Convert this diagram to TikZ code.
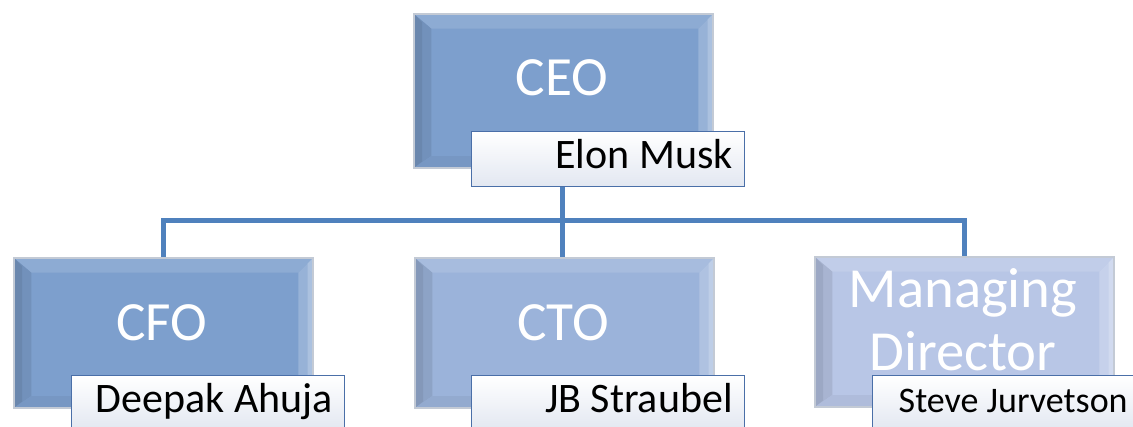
\documentclass[tikz,border=0pt]{standalone}
\usepackage{fontspec}
\setmainfont{Carlito}
\usetikzlibrary{backgrounds,calc}

\definecolor{link}{HTML}{4F81BD}
\definecolor{rimgray}{HTML}{C3CAD5}
\definecolor{tagrim}{HTML}{4A6FA8}
\definecolor{tagfoot}{HTML}{E2E7F1}
\definecolor{ceofill}{HTML}{7D9FCD}
\definecolor{ctofill}{HTML}{9BB3DA}
\definecolor{mdfill}{HTML}{B8C6E6}

\tikzset{
  % bevelled position box; #1 = face colour
  post/.style={rectangle, draw=rimgray, line width=1.5pt, fill=#1,
    minimum width=224.25pt, minimum height=112.5pt, inner sep=0pt,
    anchor=north west,
    path picture={
      \coordinate (pa) at (path picture bounding box.north west);
      \coordinate (pb) at (path picture bounding box.north east);
      \coordinate (pc) at (path picture bounding box.south east);
      \coordinate (pd) at (path picture bounding box.south west);
      % top band
      \fill[#1!88!white] (pa) -- (pb) -- ([shift={(-11pt,-11pt)}]pb)
        -- ([shift={(13pt,-11pt)}]pa) -- cycle;
      % left band
      \fill[#1!91!black] (pa) -- ([shift={(13pt,-11pt)}]pa)
        -- ([shift={(13pt,9pt)}]pd) -- (pd) -- cycle;
      \fill[#1!85!black] (pa) -- ([shift={(6pt,-6pt)}]pa)
        -- ([shift={(6pt,5pt)}]pd) -- (pd) -- cycle;
      % right band
      \fill[#1!80!white] (pb) -- (pc) -- ([shift={(-11pt,9pt)}]pc)
        -- ([shift={(-11pt,-11pt)}]pb) -- cycle;
      \fill[#1!65!white] (pb) -- (pc) -- ([shift={(-4pt,3pt)}]pc)
        -- ([shift={(-4pt,-4pt)}]pb) -- cycle;
      % bottom band
      \fill[#1!95!black] (pd) -- (pc) -- ([shift={(-11pt,9pt)}]pc)
        -- ([shift={(13pt,9pt)}]pd) -- cycle;
    }},
  tall/.style={minimum height=115.5pt},
  % name tag attached to each box
  tag/.style={rectangle, draw=tagrim, line width=1.1pt,
    top color=white, bottom color=tagfoot, anchor=north west,
    text width=186.75pt, align=flush right, inner xsep=9pt, inner ysep=0pt,
    text height=27.75pt, text depth=13.5pt,
    font=\fontsize{31.5}{36}\selectfont},
  small/.style={font=\fontsize{27}{32}\selectfont, align=flush left},
  title/.style={text=white, anchor=base, inner sep=0pt,
    font=\fontsize{41.5}{47.25}\selectfont},
  wire/.style={draw=link, line width=3.75pt, line join=miter},
}

\begin{document}
\begin{tikzpicture}[x=0.75pt,y=-0.75pt]
  \useasboundingbox (0,0) rectangle (1133,426);
  \clip (0,0) rectangle (1133,426);

  % boxes
  \node[post=ceofill, tall] (ceo) at (413,13) {};
  \node[post=ceofill] (cfo) at (13,257) {};
  \node[post=ctofill] (cto) at (414,257) {};
  \node[post=mdfill] (md) at (814,256) {};

  % titles
  \node[title] (ceot) at (562,95) {CEO};
  \node[title] (cfot) at (162,340) {CFO};
  \node[title] (ctot) at (563,340) {CTO};
  \node[title, align=center, font=\fontsize{42.5}{47.25}\selectfont] (mdt) at (963,370) {Managing\\Director};

  % name tags
  \node[tag] (elon) at (471,131) {Elon Musk};
  \node[tag] (deepak) at (71,375) {Deepak Ahuja};
  \node[tag] (jb) at (471,375) {JB Straubel};
  \node[tag, small] (steve) at (872,375) {\hspace*{10.5pt}Steve Jurvetson};

  % reporting lines
  \coordinate (hub) at (562,220);
  \begin{pgfonlayer}{background}
    \draw[wire] (hub |- elon.south) -- (hub |- cto.north);
    \draw[wire] (cfo.north) |- (hub) -| (md.north);
  \end{pgfonlayer}
\end{tikzpicture}
\end{document}
